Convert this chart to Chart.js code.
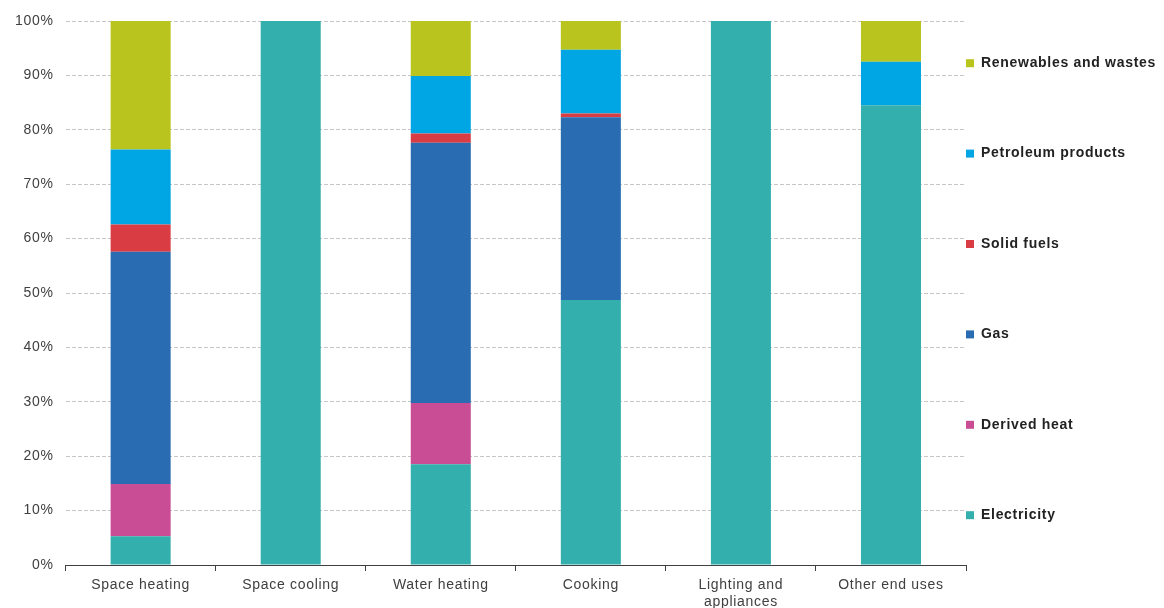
<!DOCTYPE html>
<html>
<head>
<meta charset="utf-8">
<script src="https://cdn.jsdelivr.net/npm/chart.js@4"></script>
<style>
  body { margin: 0; background: #fff; }
  #wrap { width: 1164px; height: 608px; position: relative; }
</style>
</head>
<body>
<div id="wrap"><canvas id="energyChart"></canvas></div>
<script>
// end uses and the share of each fuel (%)
const endUses = ['Space heating', 'Space cooling', 'Water heating', 'Cooking', ['Lighting and', 'appliances'], 'Other end uses'];

const electricity = [5.3, 100, 18.5, 48.7, 100, 84.5];
const derivedHeat = [9.6, 0, 11.3, 0, 0, 0];
const gas = [42.7, 0, 47.8, 33.6, 0, 0];
const solidFuels = [5.0, 0, 1.7, 0.7, 0, 0];
const petroleum = [13.8, 0, 10.6, 11.7, 0, 8.0];
const renewables = [23.6, 0, 10.1, 5.3, 0, 7.5];

const yTicks = [0, 10, 20, 30, 40, 50, 60, 70, 80, 90, 100];

const fontFamily = "'Liberation Sans', Arial, sans-serif";

function makeSet(label, data, color) {
  return {
    label: label,
    data: data,
    backgroundColor: color,
    borderWidth: 0,
    barPercentage: 0.4,
    categoryPercentage: 1
  };
}

const chartData = {
  labels: endUses,
  datasets: [
    makeSet('Electricity', electricity, '#33afae'),
    makeSet('Derived heat', derivedHeat, '#c84d94'),
    makeSet('Gas', gas, '#296cb2'),
    makeSet('Solid fuels', solidFuels, '#d93c42'),
    makeSet('Petroleum products', petroleum, '#00a6e3'),
    makeSet('Renewables and wastes', renewables, '#b9c41e')
  ]
};

// the original text is set a bit wider than the canvas default
// (canvas resize wipes ctx state, so set it before measuring and drawing)
const wideText = {
  id: 'wideText',
  beforeUpdate(chart) {
    chart.ctx.letterSpacing = '0.7px';
  },
  beforeDraw(chart) {
    chart.ctx.letterSpacing = '0.7px';
  }
};

const config = {
  type: 'bar',
  data: chartData,
  plugins: [wideText],
  options: {
    responsive: true,
    maintainAspectRatio: false,
    animation: false,
    layout: {
      padding: { top: 21, left: 3, right: -2, bottom: -9 }
    },
    scales: {
      x: {
        stacked: true,
        grid: {
          drawOnChartArea: false,
          drawTicks: true,
          tickLength: 6,
          tickColor: '#404040'
        },
        border: { display: true, color: '#404040', width: 1 },
        ticks: {
          color: '#404040',
          padding: 6,
          font: { family: fontFamily, size: 14, lineHeight: 1.214 }
        }
      },
      y: {
        stacked: true,
        min: 0,
        max: 100,
        afterBuildTicks: (scale) => {
          scale.ticks = yTicks.map((v) => ({ value: v }));
        },
        grid: {
          color: '#c6c6c6',
          lineWidth: 1,
          drawTicks: false
        },
        border: { display: false, dash: [4, 2] },
        ticks: {
          color: '#404040',
          padding: 12,
          font: { family: fontFamily, size: 14 },
          callback: (v) => v + '%'
        }
      }
    },
    plugins: {
      tooltip: { enabled: false },
      legend: {
        position: 'right',
        reverse: true,
        title: {
          display: true,
          text: ' ',
          font: { size: 14 },
          padding: { top: 0, bottom: 0 }
        },
        labels: {
          boxWidth: 8,
          boxHeight: 8,
          padding: 0,
          color: '#222',
          font: { family: fontFamily, size: 14, weight: 'bold', lineHeight: 6.457 },
          // single-line arrays so the big line height spaces the items out
          generateLabels: (chart) =>
            Chart.defaults.plugins.legend.labels.generateLabels(chart).map((item) => {
              item.text = [item.text];
              return item;
            })
        }
      }
    }
  }
};

new Chart(document.getElementById('energyChart'), config);
</script>
</body>
</html>
